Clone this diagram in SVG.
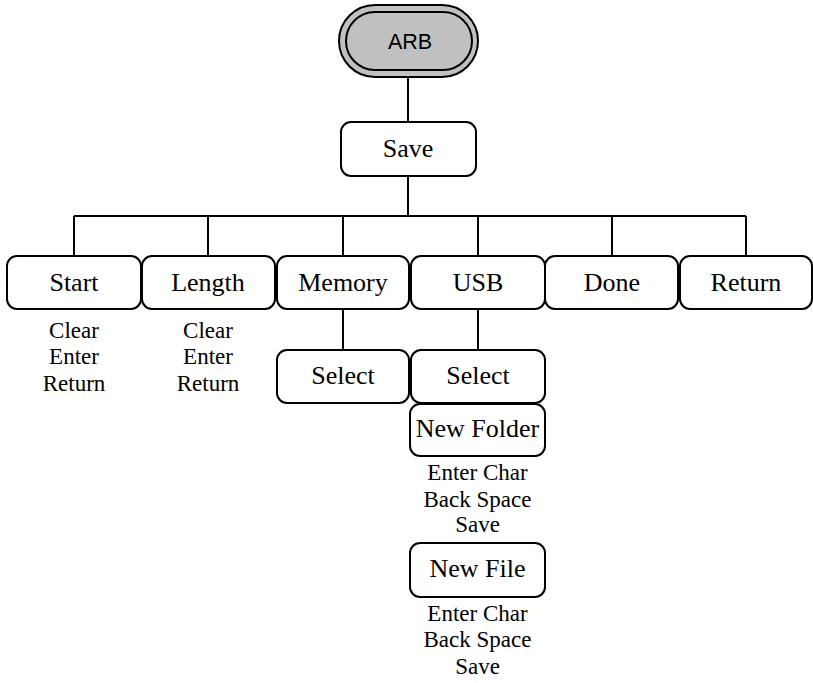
<svg xmlns="http://www.w3.org/2000/svg" width="813" height="683" viewBox="0 0 813 683">
<style>
.box{fill:#fff;stroke:#000;stroke-width:2}
.lbl{font-family:"Liberation Serif","Times New Roman",serif;font-size:26px;text-anchor:middle;fill:#000}
.sub{font-family:"Liberation Serif","Times New Roman",serif;font-size:23px;text-anchor:middle;fill:#000}
.arb{font-family:"Liberation Sans",Arial,sans-serif;font-size:21.5px;text-anchor:middle;fill:#000}
.con{stroke:#000;stroke-width:2;fill:none}
</style>
<rect width="813" height="683" fill="#fff"/>
<g id="connectors" class="con">
<line x1="408" y1="77" x2="408" y2="122"/>
<line x1="408" y1="176" x2="408" y2="216"/>
<line x1="74" y1="216" x2="746" y2="216"/>
<line x1="74" y1="216" x2="74" y2="256"/>
<line x1="208" y1="216" x2="208" y2="256"/>
<line x1="343" y1="216" x2="343" y2="256"/>
<line x1="478" y1="216" x2="478" y2="256"/>
<line x1="612" y1="216" x2="612" y2="256"/>
<line x1="746" y1="216" x2="746" y2="256"/>
<line x1="343" y1="309" x2="343" y2="350"/>
<line x1="478" y1="309" x2="478" y2="350"/>
</g>
<g id="arb">
<rect x="339" y="5" width="139" height="72" rx="36" ry="36" fill="#c0c0c0" stroke="#000" stroke-width="2"/>
<rect x="346" y="12" width="126" height="58" rx="29" ry="29" fill="none" stroke="#000" stroke-width="2"/>
<text class="arb" x="410" y="49">ARB</text>
</g>
<g id="save">
<rect class="box" x="341" y="122" width="135" height="54" rx="10"/>
<text class="lbl" x="408" y="157">Save</text>
</g>
<g id="start">
<rect class="box" x="7" y="256" width="134" height="53" rx="10"/>
<text class="lbl" x="74" y="291">Start</text>
<text class="sub" x="74" y="338">Clear</text>
<text class="sub" x="74" y="364">Enter</text>
<text class="sub" x="74" y="390.5">Return</text>
</g>
<g id="length">
<rect class="box" x="142" y="256" width="133" height="53" rx="10"/>
<text class="lbl" x="208" y="291">Length</text>
<text class="sub" x="208" y="338">Clear</text>
<text class="sub" x="208" y="364">Enter</text>
<text class="sub" x="208" y="390.5">Return</text>
</g>
<g id="memory">
<rect class="box" x="277" y="256" width="132" height="53" rx="10"/>
<text class="lbl" x="343" y="291">Memory</text>
</g>
<g id="usb">
<rect class="box" x="411" y="256" width="134" height="53" rx="10"/>
<text class="lbl" x="478" y="291">USB</text>
</g>
<g id="done">
<rect class="box" x="545" y="256" width="133" height="53" rx="10"/>
<text class="lbl" x="612" y="291">Done</text>
</g>
<g id="return">
<rect class="box" x="680" y="256" width="132" height="53" rx="10"/>
<text class="lbl" x="746" y="291">Return</text>
</g>
<g id="memory-select">
<rect class="box" x="277" y="350" width="132" height="53" rx="10"/>
<text class="lbl" x="343" y="383.5">Select</text>
</g>
<g id="usb-select">
<rect class="box" x="411" y="350" width="134" height="53" rx="10"/>
<text class="lbl" x="478" y="383.5">Select</text>
</g>
<g id="new-folder">
<rect class="box" x="410" y="404" width="135" height="52" rx="10"/>
<text class="lbl" x="477.5" y="437">New Folder</text>
<text class="sub" x="477.5" y="480">Enter Char</text>
<text class="sub" x="477.5" y="506.5">Back Space</text>
<text class="sub" x="477.5" y="532">Save</text>
</g>
<g id="new-file">
<rect class="box" x="410" y="543" width="135" height="54" rx="10"/>
<text class="lbl" x="477.5" y="577">New File</text>
<text class="sub" x="477.5" y="620.5">Enter Char</text>
<text class="sub" x="477.5" y="647">Back Space</text>
<text class="sub" x="477.5" y="673.5">Save</text>
</g>
</svg>
